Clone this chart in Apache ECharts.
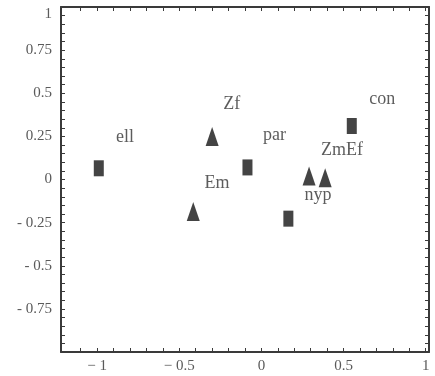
<!DOCTYPE html>
<html>
<head>
<meta charset="utf-8">
<script src="https://cdn.jsdelivr.net/npm/echarts@6/dist/echarts.min.js"></script>
<style>html,body{margin:0;padding:0;background:#fff;}#c{width:435px;height:376px;}</style>
</head>
<body>
<div id="c"></div>
<script>
// Squares (rectangles)
var squareX = [-0.99, -0.085, 0.164, 0.55];
var squareY = [0.065, 0.07, -0.227, 0.31];
// Triangles
var triX = [-0.30, -0.415, 0.29, 0.388];
var triY = [0.25, -0.186, 0.02, 0.01];
// Text labels
var labelNames = ['ell', 'Zf', 'par', 'Em', 'ZmEf', 'nyp', 'con'];
var labelX = [-0.83, -0.18, 0.08, -0.27, 0.49, 0.345, 0.735];
var labelY = [0.245, 0.435, 0.255, -0.02, 0.17, -0.093, 0.465];
// Tick labels
var xTickLabels = [-1, -0.5, 0, 0.5, 1];
var yTickLabels = [-0.75, -0.5, -0.25, 0, 0.25, 0.5, 0.75, 1];
var xMinorTicks = [-1.1, -1, -0.9, -0.8, -0.7, -0.6, -0.5, -0.4, -0.3, -0.2, -0.1, 0, 0.1, 0.2, 0.3, 0.4, 0.5, 0.6, 0.7, 0.8, 0.9, 1];
var yMinorTicks = [];
for (var i = -19; i <= 19; i++) yMinorTicks.push(Math.round(i * 5) / 100);

var font = 'Liberation Serif';
var axisColor = '#3a3a3a';

function zip(a, b) { return a.map(function (v, i) { return [v, b[i]]; }); }

var chart = echarts.init(document.getElementById('c'));
chart.setOption({
  animation: false,
  backgroundColor: '#fff',
  grid: { left: 61, top: 7, right: 6, bottom: 24 },
  xAxis: [{
    type: 'value', min: -1.22, max: 1.02, position: 'bottom',
    splitLine: { show: false },
    axisLine: { onZero: false, lineStyle: { color: axisColor, width: 2 } },
    axisTick: { inside: true, length: 4, customValues: xMinorTicks, lineStyle: { color: axisColor } },
    axisLabel: { customValues: xTickLabels, color: '#5a5a5a', fontFamily: font, fontSize: 15, margin: 7,
      formatter: function (v) { return v < 0 ? '\u2212 ' + Math.abs(v) : String(v); } }
  }, {
    type: 'value', min: -1.22, max: 1.02, position: 'top',
    splitLine: { show: false },
    axisLine: { onZero: false, lineStyle: { color: axisColor, width: 2 } },
    axisTick: { inside: true, length: 4, customValues: xMinorTicks, lineStyle: { color: axisColor } },
    axisLabel: { show: false }
  }],
  yAxis: [{
    type: 'value', min: -1, max: 1, position: 'left',
    splitLine: { show: false },
    axisLine: { onZero: false, lineStyle: { color: axisColor, width: 2 } },
    axisTick: { inside: true, length: 4, customValues: yMinorTicks, lineStyle: { color: axisColor } },
    axisLabel: { customValues: yTickLabels, color: '#5a5a5a', fontFamily: font, fontSize: 15, margin: 9,
      formatter: function (v) {
        if (v === 1) return '{top|1}';
        return v < 0 ? '- ' + Math.abs(v) : String(v);
      },
      rich: { top: { fontFamily: font, fontSize: 15, color: '#5a5a5a', padding: [14, 0, 0, 0] } } }
  }, {
    type: 'value', min: -1, max: 1, position: 'right',
    splitLine: { show: false },
    axisLine: { onZero: false, lineStyle: { color: axisColor, width: 2 } },
    axisTick: { inside: true, length: 4, customValues: yMinorTicks, lineStyle: { color: axisColor } },
    axisLabel: { show: false }
  }],
  series: [{
    type: 'scatter', symbol: 'rect', symbolSize: [10, 16],
    itemStyle: { color: '#151515' },
    data: zip(squareX, squareY)
  }, {
    type: 'scatter', symbol: 'triangle', symbolSize: [13, 19],
    itemStyle: { color: '#151515' },
    data: zip(triX, triY)
  }, {
    type: 'scatter', symbolSize: 0,
    label: { show: true, position: 'inside', color: '#333', fontFamily: font, fontSize: 18,
      formatter: function (p) { return p.name; } },
    data: labelNames.map(function (n, i) { return { name: n, value: [labelX[i], labelY[i]] }; })
  }]
});
</script>
</body>
</html>
